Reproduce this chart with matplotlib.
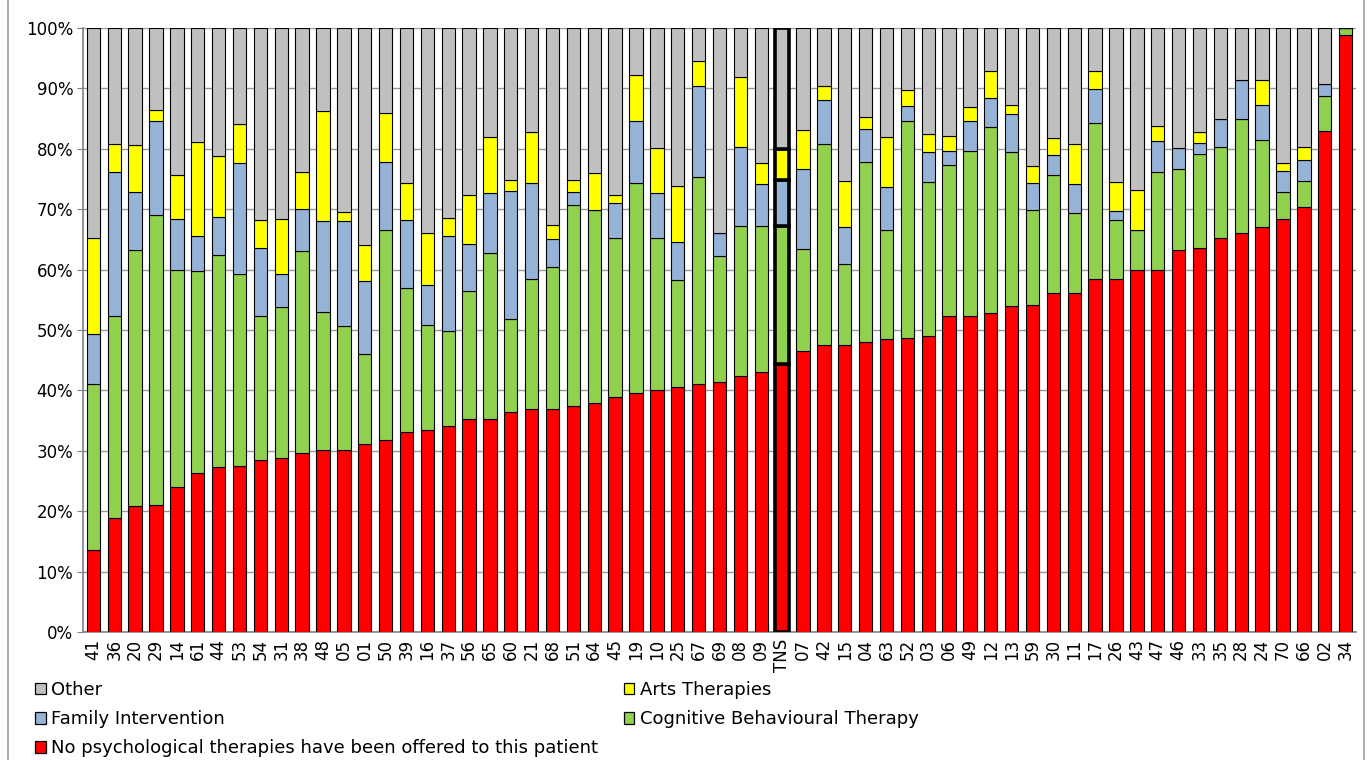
import matplotlib

matplotlib.use("Agg")
import matplotlib.pyplot as plt
from matplotlib.lines import Line2D
from matplotlib.patches import Patch
import numpy as np

# Sites, sorted by share of patients not offered psychological therapy
sites = ["41", "36", "20", "29", "14", "61", "44", "53", "54", "31",
         "38", "48", "05", "01", "50", "39", "16", "37", "56", "65",
         "60", "21", "68", "51", "64", "45", "19", "10", "25", "67",
         "69", "08", "09", "TNS", "07", "42", "15", "04", "63", "52",
         "03", "06", "49", "12", "13", "59", "30", "11", "17", "26",
         "43", "47", "46", "33", "35", "28", "24", "70", "66", "02", "34"]

# percentages per site (segments, bottom to top)
no_therapy = [13.5, 18.8, 20.9, 21.0, 24.0, 26.4, 27.3, 27.5, 28.4, 28.8,
              29.6, 30.2, 30.2, 31.2, 31.8, 33.1, 33.5, 34.1, 35.3, 35.3,
              36.4, 37.0, 37.0, 37.5, 37.9, 38.9, 39.5, 40.0, 40.6, 41.0,
              41.4, 42.4, 43.1, 44.4, 46.6, 47.5, 47.5, 48.0, 48.5, 48.7,
              49.0, 52.4, 52.4, 52.8, 53.9, 54.2, 56.1, 56.1, 58.5, 58.5,
              60.0, 60.0, 63.3, 63.6, 65.3, 66.0, 67.1, 68.3, 70.4, 83.0, 98.9]
cbt = [27.5, 33.6, 42.4, 48.1, 36.0, 33.4, 35.2, 31.7, 23.9, 25.0,
       33.5, 22.7, 20.5, 14.9, 34.8, 23.9, 17.4, 15.7, 21.2, 27.5,
       15.4, 21.5, 23.4, 33.2, 32.0, 26.3, 34.8, 25.2, 17.7, 34.3,
       20.9, 24.8, 24.1, 22.9, 16.8, 33.3, 13.4, 29.8, 18.1, 35.9,
       25.5, 25.0, 27.2, 30.8, 25.6, 15.7, 19.6, 13.3, 25.7, 9.7,
       6.6, 16.1, 13.3, 15.6, 15.0, 19.0, 14.4, 4.5, 4.3, 5.7, 1.1]
family = [8.4, 23.7, 9.6, 15.5, 8.4, 5.7, 6.2, 18.4, 11.2, 5.4,
          7.0, 15.1, 17.3, 12.0, 11.2, 11.2, 6.6, 15.7, 7.8, 9.8,
          21.2, 15.8, 4.6, 2.1, 0.0, 5.8, 10.3, 7.4, 6.2, 15.1,
          3.8, 13.1, 6.9, 7.5, 13.2, 7.3, 6.2, 5.5, 7.0, 2.5,
          5.0, 2.2, 5.0, 4.8, 6.3, 4.4, 3.2, 4.7, 5.7, 1.5,
          0.0, 5.2, 3.5, 1.8, 4.6, 6.4, 5.7, 3.6, 3.4, 2.0, 0.0]
arts = [15.8, 4.7, 7.7, 1.9, 7.2, 15.7, 10.1, 6.5, 4.7, 9.1,
        6.0, 18.2, 1.5, 6.0, 8.2, 6.2, 8.6, 3.0, 8.1, 9.4,
        1.9, 8.4, 2.4, 2.0, 6.1, 1.4, 7.6, 7.5, 9.3, 4.2,
        0.0, 11.6, 3.5, 5.2, 6.5, 2.3, 7.5, 1.9, 8.3, 2.6,
        3.0, 2.5, 2.3, 4.5, 1.4, 2.9, 2.9, 6.7, 3.0, 4.8,
        6.6, 2.5, 0.0, 1.8, 0.0, 0.0, 4.2, 1.2, 2.2, 0.0, 0.0]
other = [34.8, 19.2, 19.4, 13.5, 24.4, 18.8, 21.2, 15.9, 31.8, 31.7,
         23.9, 13.8, 30.5, 35.9, 14.0, 25.6, 33.9, 31.5, 27.6, 18.0,
         25.1, 17.3, 32.6, 25.2, 24.0, 27.6, 7.8, 19.9, 26.2, 5.4,
         33.9, 8.1, 22.4, 20.0, 16.9, 9.6, 25.4, 14.8, 18.1, 10.3,
         17.5, 17.9, 13.1, 7.1, 12.8, 22.8, 18.2, 19.2, 7.1, 25.5,
         26.8, 16.2, 19.9, 17.2, 15.1, 8.6, 8.6, 22.4, 19.7, 9.3, 0.0]

series = [
    ("No psychological therapies have been offered to this patient", no_therapy, "#FF0000"),
    ("Cognitive Behavioural Therapy", cbt, "#92D050"),
    ("Family Intervention", family, "#95B3D7"),
    ("Arts Therapies", arts, "#FFFF00"),
    ("Other", other, "#C0C0C0"),
]

HIGHLIGHT = "TNS"
W, H = 1370, 760

fig = plt.figure(figsize=(W / 100, H / 100), dpi=100)
ax = fig.add_axes([83 / W, 1 - 632 / H, 1273 / W, 604 / H])

x = np.arange(len(sites))
bottom = np.zeros(len(sites))
hi = sites.index(HIGHLIGHT)
for name, vals, col in series:
    vals = np.array(vals)
    bars = ax.bar(x, vals, 0.64, bottom=bottom, color=col,
                  edgecolor="black", linewidth=0.8, zorder=3)
    bars[hi].set_linewidth(2.6)
    bottom += vals

ax.set_xlim(-0.5, len(sites) - 0.5)
ax.set_ylim(0, 100)
ax.set_yticks(np.arange(0, 101, 10))
ax.set_yticklabels([f"{v}%" for v in range(0, 101, 10)], fontsize=12)
ax.set_xticks(x)
ax.set_xticklabels(sites, rotation=90, fontsize=12)
ax.tick_params(axis="x", length=0, pad=5)
ax.tick_params(axis="y", length=4, color="#808080", pad=3)
ax.grid(axis="y", color="#9a9a9a", lw=1.0, zorder=0)
for s in ["left", "bottom"]:
    ax.spines[s].set_color("#808080")
    ax.spines[s].set_linewidth(1.2)
ax.spines["top"].set_visible(False)
ax.spines["right"].set_visible(False)

# chart-area border lines at the sides
for xb in (7.5, 1363.5):
    fig.add_artist(Line2D([xb / W, xb / W], [0, 1], color="#a0a0a0", lw=1.2))

order = [4, 2, 0, 3, 1]  # Other, Family, None | Arts, CBT
handles = [Patch(facecolor=series[i][2], edgecolor="black", lw=0.9) for i in order]
labels = [series[i][0] for i in order]
fig.legend(handles, labels, loc="upper left", bbox_to_anchor=(35 / W, 1 - 681 / H),
           ncol=2, frameon=False, fontsize=13, handlelength=0.6,
           handleheight=0.6, handletextpad=0.3, columnspacing=1.4,
           labelspacing=0.62, borderpad=0, borderaxespad=0)

fig.savefig("out.png", dpi=100)
